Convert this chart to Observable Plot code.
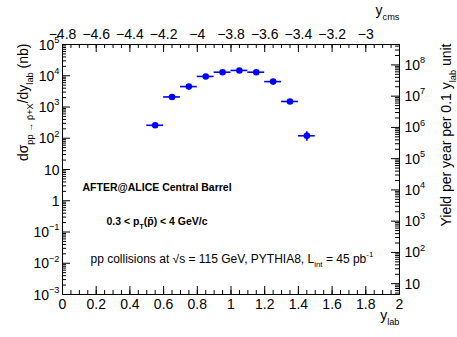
<!DOCTYPE html>
<html>
<head>
<meta charset="utf-8">
<script src="https://cdn.jsdelivr.net/npm/d3@7"></script>
<script src="https://cdn.jsdelivr.net/npm/@observablehq/plot@0.6"></script>
<style>
  html, body { margin: 0; padding: 0; background: #fff; }
  svg { display: block; }
</style>
</head>
<body>
<div id="chart"></div>
<script>
// ---- data ----
const yLabBins   = [0.55, 0.65, 0.75, 0.85, 0.95, 1.05, 1.15, 1.25, 1.35, 1.45];
const dSigma     = [260, 2100, 4500, 9500, 13000, 14800, 13000, 6500, 1500, 120];   // nb
const dSigmaErr  = [12, 45, 70, 100, 120, 130, 120, 80, 40, 40];
const binHalf    = 0.05;
const yieldFactor = 4500;      // 45 pb^-1 (= 45000 nb^-1) x 0.1 unit of y_lab
const yCmsShift  = -4.8;       // y_cms = y_lab - 4.8

const bottomTickValues = [0, 0.2, 0.4, 0.6, 0.8, 1, 1.2, 1.4, 1.6, 1.8, 2];
const bottomTickLabels = ["0", "0.2", "0.4", "0.6", "0.8", "1", "1.2", "1.4", "1.6", "1.8", "2"];
const topTickValues    = [-4.8, -4.6, -4.4, -4.2, -4, -3.8, -3.6, -3.4, -3.2, -3];
const topTickLabels    = ["−4.8", "−4.6", "−4.4", "−4.2", "−4", "−3.8", "−3.6", "−3.4", "−3.2", "−3"];
const leftDecades  = [-3, -2, -1, 0, 1, 2, 3, 4, 5];
const rightDecades = [1, 2, 3, 4, 5, 6, 7, 8];

const leftTitle  = "dσ_{pp → p̄+X}/dy_{lab} (nb)";
const rightTitle = "Yield per year per 0.1 y_{lab} unit";
const topTitle   = "y_{cms}";
const bottomTitle = "y_{lab}";
const note1 = "AFTER@ALICE Central Barrel";
const note2 = "0.3 < p_{T}(p̄) < 4 GeV/c";
const note3 = "pp collisions at √s = 115 GeV, PYTHIA8, L_{int} = 45 pb^{-1}";

// ---- derived tables ----
const points = yLabBins.map((x, i) => ({x, v: dSigma[i], e: dSigmaErr[i]}));
const W = 457, H = 337, mL = 62, mR = 58, mT = 44, mB = 43;
const FW = W - mL - mR, FH = H - mT - mB;

const xMinor = d3.range(0, 2.0001, 0.05);
const leftMajor = leftDecades.map(k => 10 ** k);
const leftMinor = [];
for (let k = -3; k < 5; k++) for (let m = 2; m <= 9; m++) leftMinor.push(m * 10 ** k);
const rightMajor = rightDecades.map(k => 10 ** k / yieldFactor);
const rightMinor = [];
for (let k = 0; k <= 8; k++) for (let m = 2; m <= 9; m++) {
  const v = m * 10 ** k;
  if (v >= 1e-3 * yieldFactor && v <= 1e5 * yieldFactor) rightMinor.push(v / yieldFactor);
}
const supLabel = k => k === 0 ? "1" : k === 1 ? "10" : `10^{${k < 0 ? "−" + (-k) : k}}`;

const ink = "black";
const chart = Plot.plot({
  width: W, height: H,
  marginLeft: mL, marginRight: mR, marginTop: mT, marginBottom: mB,
  style: {fontFamily: "'Liberation Sans', Arial, Helvetica, sans-serif", fontSize: "14px", background: "#fff", color: "black"},
  x: {domain: [0, 2], axis: null},
  y: {type: "log", domain: [1e-3, 1e5], axis: null},
  marks: [
    // inward ticks (ROOT style)
    Plot.tickX(bottomTickValues, {x: d => d, insetTop: FH - 8, stroke: ink}),
    Plot.tickX(xMinor, {x: d => d, insetTop: FH - 4, stroke: ink}),
    Plot.tickX(topTickValues.concat([-2.8]), {x: d => d - yCmsShift, insetBottom: FH - 8, stroke: ink}),
    Plot.tickX(xMinor, {x: d => d, insetBottom: FH - 4, stroke: ink}),
    Plot.tickY(leftMajor, {y: d => d, insetRight: FW - 8, stroke: ink}),
    Plot.tickY(leftMinor, {y: d => d, insetRight: FW - 4, stroke: ink}),
    Plot.tickY(rightMajor, {y: d => d, insetLeft: FW - 8, stroke: ink}),
    Plot.tickY(rightMinor, {y: d => d, insetLeft: FW - 4, stroke: ink}),
    Plot.frame({stroke: ink}),
    // tick labels
    Plot.text(bottomTickValues, {x: d => d, frameAnchor: "bottom", dy: 14, lineAnchor: "bottom",
      text: (d, i) => bottomTickLabels[i], fontSize: 14, fill: ink}),
    Plot.text(topTickValues, {x: d => d - yCmsShift, frameAnchor: "top", dy: -6, lineAnchor: "bottom",
      text: (d, i) => topTickLabels[i], fontSize: 14, fill: ink}),
    Plot.text(leftDecades, {y: k => 10 ** k, frameAnchor: "left", dx: -3, textAnchor: "end",
      lineAnchor: "bottom", dy: 5, text: supLabel, fontSize: 14, fill: ink}),
    Plot.text(rightDecades, {y: k => 10 ** k / yieldFactor, frameAnchor: "right", dx: 5, textAnchor: "start",
      lineAnchor: "bottom", dy: 5, text: supLabel, fontSize: 14, fill: ink}),
    // axis titles
    Plot.text([leftTitle], {frameAnchor: "top-left", dx: -35, dy: -1, rotate: -90, textAnchor: "end",
      lineAnchor: "bottom", text: d => d, fontSize: 14, fill: ink}),
    Plot.text([rightTitle], {frameAnchor: "top-right", dx: 51, dy: -1, rotate: -90, textAnchor: "end",
      lineAnchor: "bottom", text: d => d, fontSize: 14, fill: ink}),
    Plot.text([topTitle], {frameAnchor: "top-right", dx: 0, dy: -30, textAnchor: "end",
      lineAnchor: "bottom", text: d => d, fontSize: 14, fill: ink}),
    Plot.text([bottomTitle], {frameAnchor: "bottom-right", dx: 0, dy: 25, textAnchor: "end",
      lineAnchor: "bottom", text: d => d, fontSize: 14, fill: ink}),
    // annotations
    Plot.text([note1], {frameAnchor: "top-left", dx: 20, dy: 146, textAnchor: "start", lineAnchor: "bottom",
      text: d => d, fontSize: 10.5, fontWeight: "bold", fill: ink}),
    Plot.text([note2], {frameAnchor: "top-left", dx: 44, dy: 180, textAnchor: "start", lineAnchor: "bottom",
      text: d => d, fontSize: 10.5, fontWeight: "bold", fill: ink}),
    Plot.text([note3], {frameAnchor: "top-left", dx: 28, dy: 218, textAnchor: "start", lineAnchor: "bottom",
      text: d => d, fontSize: 12, fill: ink}),
    // data
    Plot.ruleY(points, {y: "v", x1: d => d.x - binHalf, x2: d => d.x + binHalf, stroke: "#0000ff", strokeWidth: 1.6}),
    Plot.ruleX(points, {x: "x", y1: d => d.v - d.e, y2: d => d.v + d.e, stroke: "#0000ff", strokeWidth: 1.6}),
    Plot.dot(points, {x: "x", y: "v", r: 3.3, fill: "#0000ff", stroke: "none"})
  ]
});
document.getElementById("chart").appendChild(chart);

// rich text: _{sub} and ^{sup}
(function richify(svg) {
  const NS = "http://www.w3.org/2000/svg";
  svg.querySelectorAll("text").forEach(t => {
    const s = t.textContent;
    if (!/[_^]\{/.test(s)) return;
    const fs = parseFloat(getComputedStyle(t).fontSize) || 14;
    while (t.firstChild) t.removeChild(t.firstChild);
    const re = /([_^])\{([^}]*)\}/g;
    let last = 0, m, shift = 0;
    const add = (txt, kind) => {
      if (!txt) return;
      const ts = document.createElementNS(NS, "tspan");
      const target = kind === "_" ? 0.38 * fs : kind === "^" ? -0.48 * fs : 0;
      const dy = target - shift; shift = target;
      if (dy) ts.setAttribute("dy", dy.toFixed(2));
      if (kind) ts.setAttribute("font-size", (0.66 * fs).toFixed(2));
      ts.textContent = txt;
      t.appendChild(ts);
    };
    while ((m = re.exec(s))) { add(s.slice(last, m.index), null); add(m[2], m[1]); last = re.lastIndex; }
    add(s.slice(last), null);
  });
})(chart);
</script>
</body>
</html>
